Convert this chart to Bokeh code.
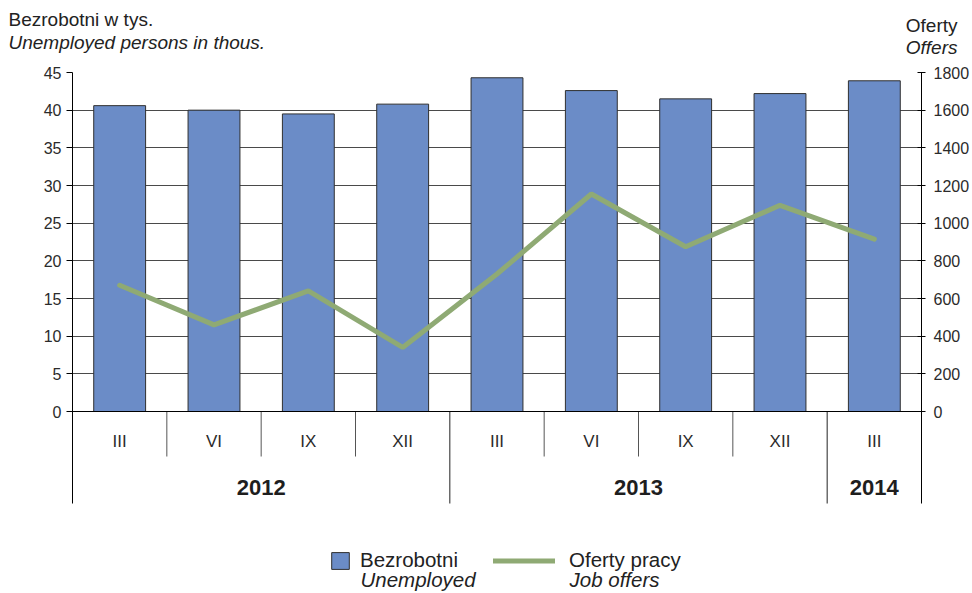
import numpy as np
from bokeh.plotting import figure
from bokeh.layouts import column
from bokeh.models import (Range1d, LinearAxis, FixedTicker, Grid, Span, Legend,
                          LegendItem, Label)
from bokeh.core.properties import value
from bokeh.embed import file_html
from bokeh.resources import INLINE

# ---------------- data ----------------
months = ["III", "VI", "IX", "XII", "III", "VI", "IX", "XII", "III"]
years = ["2012", "2013", "2014"]
months_per_year = [4, 4, 1]
unemployed = [40.6, 40.0, 39.5, 40.8, 44.3, 42.6, 41.5, 42.2, 43.9]       # thous.
job_offers = [670, 460, 640, 340, 730, 1155, 875, 1095, 915]
left_ticks = list(range(0, 50, 5))
right_ticks = list(range(0, 2000, 200))

# ---------------- layout ----------------
W = 972
HEAD_H = 64
H = 593 - HEAD_H
ML, MR, MT = 72, 51, 8
FRAME_H = H - MT
PX_PER_UNIT = 339 / 45.0
Y_MAX = 45
Y_MIN = Y_MAX - FRAME_H / PX_PER_UNIT
RATIO = 1800 / 45.0
SANS = "Liberation Sans"
TXT = "#2b2b2b"
BASE_FIX = 6


def dy(px):
    return -px / PX_PER_UNIT


n = len(months)
xc = np.arange(n) + 0.5

# ---------------- header (axis titles) ----------------
head = figure(width=W, height=HEAD_H, x_range=Range1d(0, 1), y_range=Range1d(0, 1),
              x_axis_location=None, y_axis_location=None, toolbar_location=None,
              output_backend="svg", min_border=0, outline_line_color=None,
              frame_align=False)
for g in head.grid:
    g.visible = False


def hl(x, baseline, text, italic=False, align="left"):
    head.add_layout(Label(x=x, y=HEAD_H - baseline + BASE_FIX, x_units="screen",
                          y_units="screen", text=text,
                          text_font=SANS, text_font_size="19px",
                          text_font_style="italic" if italic else "normal",
                          text_align=align, text_baseline="alphabetic",
                          text_color="#222222"))


hl(8, 25, "Bezrobotni w tys.")
hl(8, 48, "Unemployed persons in thous.", italic=True)
hl(957, 31, "Oferty", align="right")
hl(957, 53, "Offers", italic=True, align="right")

# ---------------- main chart ----------------
p = figure(width=W, height=H, x_range=Range1d(0, n), y_range=Range1d(Y_MIN, Y_MAX),
           x_axis_location=None, y_axis_location=None, toolbar_location=None,
           output_backend="svg", min_border_left=ML, min_border_right=MR,
           min_border_top=MT, min_border_bottom=0, outline_line_color=None,
           frame_align=False)
for g in p.grid:
    g.visible = False
p.extra_y_ranges = {"offers": Range1d(Y_MIN * RATIO, Y_MAX * RATIO)}

grid = Grid(dimension=1, ticker=FixedTicker(ticks=left_ticks[1:]),
            grid_line_color="#4a4a4a", grid_line_width=1)
p.add_layout(grid)

bars = p.vbar(x=xc, top=unemployed, bottom=0, width=0.55, fill_color="#6b8cc7",
              line_color="#2f2f2f", line_width=1)
line = p.line(x=xc, y=job_offers, y_range_name="offers", line_color="#8faa74",
              line_width=5, line_cap="round")

p.add_layout(Span(location=0, dimension="width", line_color="black", line_width=1))

# category table separators
edges = np.cumsum(months_per_year)
long_sep = [int(e) for e in edges[:-1]]
short_sep = [i for i in range(1, n) if i not in set(edges.tolist())]
p.segment(x0=short_sep, y0=0, x1=short_sep, y1=dy(45), line_color="#555555", line_width=1)
p.segment(x0=long_sep, y0=0, x1=long_sep, y1=dy(92), line_color="#222222", line_width=1)

p.text(x=xc, y=dy(30), text=months, text_align="center", text_baseline="middle",
       text_font=value(SANS), text_font_size="17px", text_color=TXT)
starts = edges - np.array(months_per_year)
centers = starts + np.array(months_per_year) / 2.0
p.text(x=centers, y=dy(76), text=years, text_align="center", text_baseline="middle",
       text_font=value(SANS), text_font_size="22px", text_font_style="bold",
       text_color="#1e1e1e")

# axes
left = LinearAxis(ticker=FixedTicker(ticks=left_ticks), bounds=(dy(92), Y_MAX))
right = LinearAxis(y_range_name="offers", ticker=FixedTicker(ticks=right_ticks),
                   bounds=(dy(92) * RATIO, Y_MAX * RATIO))
for ax, tin, tout, so in ((left, 0, 6, 5), (right, 4, 4, 8)):
    ax.axis_line_color = "black"
    ax.major_tick_line_color = "black"
    ax.major_tick_in = tin
    ax.major_tick_out = tout
    ax.minor_tick_line_color = None
    ax.major_label_standoff = so
    ax.major_label_text_font = SANS
    ax.major_label_text_font_size = "16px"
    ax.major_label_text_color = TXT
p.add_layout(left, "left")
p.add_layout(right, "right")

# bottom legend
common = dict(padding=0, margin=0, spacing=0, border_line_color=None,
              background_fill_alpha=0, label_text_font=SANS,
              label_text_font_size="20.5px", label_text_color="#222222")
leg1 = Legend(items=[LegendItem(label="Bezrobotni", renderers=[bars])],
              location=(257, 21), glyph_width=22, glyph_height=21,
              label_standoff=9, **common)
leg2 = Legend(items=[LegendItem(label="Oferty pracy", renderers=[line])],
              location=(421, 21), glyph_width=62, glyph_height=21,
              label_standoff=14, **common)
p.add_layout(leg1)
p.add_layout(leg2)

for x, text in ((288, "Unemployed"), (497, "Job offers")):
    p.add_layout(Label(x=x, y=7 + BASE_FIX + 1, x_units="screen", y_units="screen",
                       text=text, text_font=SANS, text_font_size="20.5px",
                       text_font_style="italic", text_baseline="alphabetic",
                       text_color="#222222"))

layout = column(head, p, spacing=0)
open("out.html", "w").write(file_html(layout, INLINE))
